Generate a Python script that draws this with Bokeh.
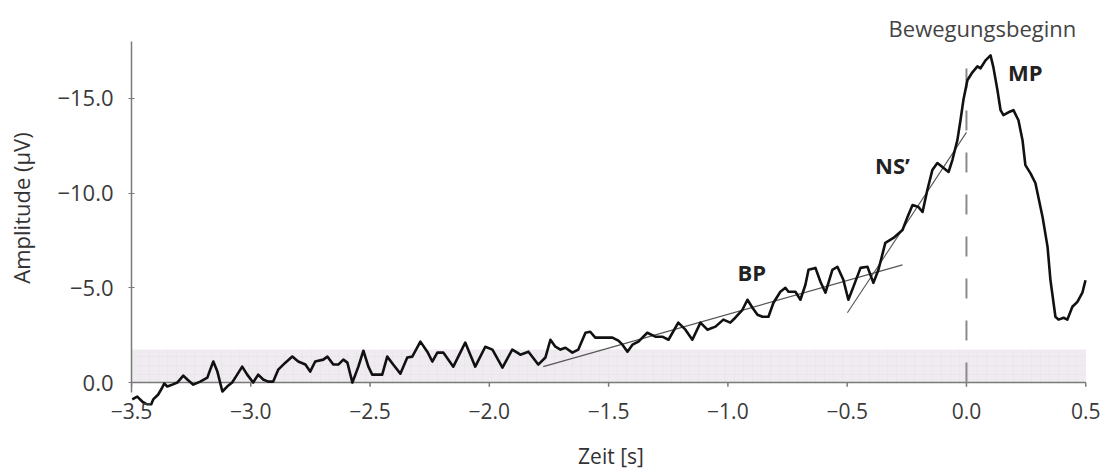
from bokeh.plotting import figure
from bokeh.models import Range1d, FixedTicker, BoxAnnotation, Label, ColumnDataSource
from bokeh.embed import file_html
from bokeh.resources import INLINE

# ---- data ----
time_s = [
    -3.497, -3.476, -3.455, -3.421, -3.409, -3.388, -3.371, -3.363, -3.350, -3.329,
    -3.308, -3.283, -3.266, -3.241, -3.212, -3.182, -3.170, -3.157, -3.140, -3.119,
    -3.099, -3.078, -3.057, -3.036, -3.015, -2.990, -2.969, -2.948, -2.927, -2.906,
    -2.885, -2.855, -2.826, -2.801, -2.771, -2.751, -2.730, -2.696,
    -2.679, -2.654, -2.633, -2.612, -2.595, -2.574, -2.549, -2.528, -2.507, -2.491,
    -2.449, -2.428, -2.403, -2.373, -2.344, -2.323, -2.289, -2.260, -2.239, -2.218,
    -2.193, -2.151, -2.101, -2.059, -2.017, -1.987, -1.945, -1.904, -1.883,
    -1.870, -1.836, -1.795, -1.765, -1.744, -1.723, -1.702, -1.681, -1.652, -1.627,
    -1.597, -1.577, -1.556, -1.514, -1.484, -1.459, -1.442, -1.421, -1.400, -1.375,
    -1.338, -1.304, -1.275, -1.249, -1.208, -1.178, -1.149, -1.115,
    -1.086, -1.052, -1.019, -0.990, -0.969, -0.939, -0.918, -0.897, -0.876, -0.855,
    -0.830, -0.809, -0.780, -0.759, -0.746, -0.717, -0.696, -0.675, -0.662, -0.633,
    -0.612, -0.591, -0.562, -0.541, -0.516, -0.495, -0.474, -0.444,
    -0.415, -0.390, -0.369, -0.340, -0.306, -0.268, -0.247, -0.226, -0.201, -0.184,
    -0.164, -0.143, -0.122, -0.101, -0.075, -0.059, -0.038, -0.025, -0.013, 0.004,
    0.025, 0.046,
    0.059, 0.080, 0.101, 0.113, 0.130, 0.143, 0.155, 0.176, 0.197, 0.218,
    0.235, 0.247, 0.268, 0.289, 0.319, 0.340, 0.352, 0.373, 0.386, 0.407,
    0.423, 0.444, 0.465, 0.486, 0.499,
]
amplitude_uv = [
    0.89, 0.74, 1.00, 1.26, 0.89, 0.63, 0.26, 0.05, 0.21, 0.11,
    0.00, -0.37, -0.16, 0.11, -0.05, -0.26, -0.68, -1.11, -0.58, 0.47,
    0.21, 0.00, -0.42, -0.84, -0.42, 0.00, -0.42, -0.16, -0.05, -0.05,
    -0.68, -1.05, -1.37, -1.11, -0.95, -0.58, -1.11, -1.21,
    -1.37, -0.95, -0.95, -1.21, -1.05, 0.00, -0.84, -1.68, -0.84, -0.42,
    -0.42, -1.37, -0.95, -0.47, -1.32, -1.37, -2.16, -1.63, -1.11, -1.58,
    -1.58, -0.84, -2.11, -0.84, -1.89, -1.74, -0.79, -1.74, -1.58,
    -1.47, -1.63, -0.95, -1.32, -2.26, -1.89, -1.74, -1.84, -1.58, -1.74,
    -2.63, -2.68, -2.37, -2.37, -2.37, -2.21, -2.00, -1.63, -2.00, -2.16,
    -2.63, -2.42, -2.42, -2.26, -3.16, -2.79, -2.26, -3.16,
    -2.79, -2.95, -3.32, -3.16, -3.42, -3.84, -4.37, -3.95, -3.58, -3.47,
    -3.47, -4.21, -4.79, -5.00, -4.79, -4.79, -4.37, -5.16, -5.95, -6.05,
    -5.32, -4.74, -5.95, -6.11, -5.42, -4.37, -5.05, -6.05,
    -6.11, -5.26, -5.95, -7.37, -7.63, -8.05, -8.74, -9.37, -9.26, -9.00,
    -10.16, -11.21, -11.58, -11.37, -11.11, -11.74, -12.79, -13.84, -14.89, -15.95,
    -16.37, -16.68,
    -16.58, -17.00, -17.26, -16.63, -15.42, -14.37, -14.11, -14.26, -14.37, -13.84,
    -12.79, -11.47, -11.05, -10.53, -8.74, -7.16, -5.42, -3.47, -3.32, -3.42,
    -3.32, -4.00, -4.26, -4.74, -5.40,
]

# fitted slopes (BP and NS')
bp_fit_t = [-1.774, -0.268]
bp_fit_a = [-0.84, -6.21]
ns_fit_t = [-0.499, 0.0]
ns_fit_a = [-3.68, -13.2]

# baseline band and movement onset
band_low, band_high = 0.0, -1.75
onset_t = [0.0, 0.0]
onset_a = [0.0, -17.7]

# component labels
comp_names = ["BP", "NS\u2019", "MP"]
comp_t = [-0.90, -0.31, 0.247]
comp_a = [-5.84, -11.47, -16.37]

onset_text = "Bewegungsbeginn"
onset_text_t, onset_text_a = 0.067, -18.7

x_ticks = [-3.5, -3.0, -2.5, -2.0, -1.5, -1.0, -0.5, 0.0, 0.5]
x_tick_labels = ["\u22123.5", "\u22123.0", "\u22122.5", "\u22122.0", "\u22121.5",
                 "\u22121.0", "\u22120.5", "0.0", "0.5"]
y_ticks = [0.0, -5.0, -10.0, -15.0]
y_tick_labels = ["0.0", "\u22125.0", "\u221210.0", "\u221215.0"]

x_title = "Zeit [s]"
y_title = "Amplitude (\u00b5V)"

FONT = "Open Sans"
FS = "22px"
FS_X = "21px"
AXIS_GREY = "#7a7a7a"

p = figure(width=1104, height=472, output_backend="svg", toolbar_location=None,
           x_range=Range1d(-3.5, 0.52), y_range=Range1d(1.21, -19.63),
           min_border_left=131, min_border_right=14, min_border_top=10,
           min_border_bottom=66)
p.outline_line_color = None
p.xgrid.visible = False
p.ygrid.visible = False
p.background_fill_color = "white"
p.border_fill_color = "white"

band = BoxAnnotation(bottom=band_low, top=band_high, left=x_ticks[0], right=x_ticks[-1],
                     fill_color="#efebf0", fill_alpha=1.0, line_color=None,
                     hatch_pattern="+", hatch_color="#dcd6de", hatch_alpha=0.4,
                     hatch_scale=9, hatch_weight=0.6, level="underlay")
p.add_layout(band)

# x axis line and ticks at amplitude 0
p.line([x_ticks[0], x_ticks[-1]], [0, 0], line_color=AXIS_GREY, line_width=1.5)
p.segment(x0=x_ticks, y0=[0] * len(x_ticks), x1=x_ticks, y1=[0.22] * len(x_ticks),
          line_color=AXIS_GREY, line_width=1.5)

p.line(onset_t, onset_a, line_color="#8a8a8a", line_width=2, line_dash="20 22")

p.line(bp_fit_t, bp_fit_a, line_color="#555555", line_width=1.1)
p.line(ns_fit_t, ns_fit_a, line_color="#555555", line_width=1.1)

src = ColumnDataSource(dict(t=time_s, a=amplitude_uv))
p.line("t", "a", source=src, line_color="#111111", line_width=2.6, line_join="round")

for name, t, a in zip(comp_names, comp_t, comp_a):
    p.add_layout(Label(x=t, y=a, text=name, text_font=FONT, text_font_size=FS,
                       text_font_style="bold", text_color="#222222",
                       text_align="center", text_baseline="middle"))

p.add_layout(Label(x=onset_text_t, y=onset_text_a, text=onset_text, text_font=FONT,
                   text_font_size=FS, text_color="#444444",
                   text_align="center", text_baseline="middle"))

xa = p.xaxis[0]
xa.ticker = FixedTicker(ticks=x_ticks)
xa.major_label_overrides = dict(zip(x_ticks, x_tick_labels))
xa.axis_line_color = None
xa.major_tick_line_color = None
xa.major_tick_in = 0
xa.major_tick_out = 0
xa.minor_tick_line_color = None
xa.major_label_standoff = -3
xa.major_label_text_font = FONT
xa.major_label_text_font_size = FS_X
xa.major_label_text_color = "#3a3a3a"
xa.axis_label = x_title
xa.axis_label_text_font = FONT
xa.axis_label_text_font_size = FS_X
xa.axis_label_text_font_style = "normal"
xa.axis_label_text_color = "#333333"
xa.axis_label_standoff = 20

ya = p.yaxis[0]
ya.ticker = FixedTicker(ticks=y_ticks)
ya.major_label_overrides = dict(zip(y_ticks, y_tick_labels))
ya.bounds = (-18.0, 0.5)
ya.axis_line_color = AXIS_GREY
ya.axis_line_width = 1.5
ya.major_tick_line_color = AXIS_GREY
ya.major_tick_in = 3
ya.major_tick_out = 3
ya.minor_tick_line_color = None
ya.major_label_standoff = 15
ya.major_label_text_font = FONT
ya.major_label_text_font_size = FS
ya.major_label_text_color = "#3a3a3a"
ya.axis_label = y_title
ya.axis_label_text_font = FONT
ya.axis_label_text_font_size = FS
ya.axis_label_text_font_style = "normal"
ya.axis_label_text_color = "#333333"
ya.axis_label_standoff = 18

open("out.html", "w").write(file_html(p, INLINE))
